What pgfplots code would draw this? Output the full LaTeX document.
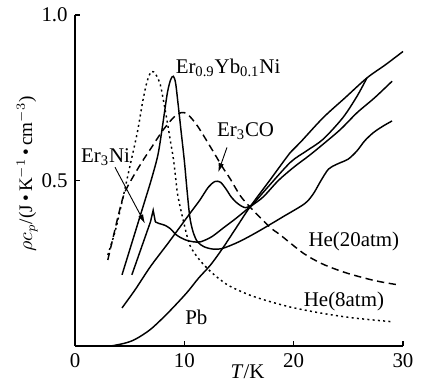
\documentclass[border=0pt]{standalone}
\usepackage{fontspec}
\setmainfont{Liberation Serif}
\usepackage{pgfplots}
\pgfplotsset{compat=1.18}
\usetikzlibrary{arrows.meta}
\begin{document}
\fontsize{11.5}{13}\selectfont
\begin{tikzpicture}
\useasboundingbox (-41.25pt,-20.35pt) rectangle (200.75pt,190.3pt);
\begin{axis}[
  at={(0,0)}, anchor=south west,
  width=180.4pt, height=182pt, scale only axis,
  xmin=0, xmax=30, ymin=0, ymax=1,
  axis lines=left, axis line style={-, line width=1pt},
  xtick={0,10,20,30}, ytick={0.5,1.0}, yticklabels={0.5,1.0},
  tick align=inside, major tick length=3pt, tick style={line width=0.8pt, black},
  /pgf/number format/assume math mode=true,
  no markers,
  xlabel={\textit{T}/K},
  ylabel={$\rho c_p$/(J\,\textbullet\,K$^{-1}$\,\textbullet\,cm$^{-3}$)},
  xlabel style={at={(axis description cs:0.526,-0.078)}, anchor=center},
  ylabel style={at={(axis description cs:-0.146,0.52)}, anchor=center, font=\fontsize{10.5}{12}\selectfont},
  clip=false,
  every axis plot/.append style={line width=0.8pt, black},
]
% He(8atm) dotted
\addplot[smooth, dash pattern=on 1.1pt off 1.8pt] coordinates {
(3.0,0.275)(3.7,0.35)(4.4,0.45)(5.0,0.54)(5.7,0.645)(6.2,0.74)(6.6,0.80)(7.0,0.83)(7.4,0.82)(7.8,0.79)(8.1,0.74)(8.4,0.685)(8.7,0.625)(9.0,0.565)(9.2,0.51)(9.4,0.455)(9.9,0.38)(10.5,0.305)(11.4,0.26)(12.4,0.225)(13.3,0.20)(14.2,0.18)(16.3,0.15)(19.4,0.12)(22.4,0.10)(25.4,0.085)(29.1,0.073)};
% He(20atm) dashed
\addplot[smooth, dash pattern=on 4pt off 2.5pt] coordinates {
(3.0,0.26)(3.5,0.33)(4.0,0.40)(4.5,0.46)(5.2,0.505)(6.2,0.56)(7.0,0.60)(8.0,0.65)(9.0,0.69)(9.7,0.705)(10.3,0.70)(11.2,0.665)(12.6,0.59)(13.5,0.54)(14.2,0.505)(15.1,0.455)(16,0.42)(17.8,0.36)(18.8,0.335)(20.9,0.28)(22.5,0.25)(24,0.23)(25.4,0.215)(27.5,0.197)(29.5,0.185)};
% Er0.9Yb0.1Ni
\addplot[smooth, tension=0.5] coordinates {
(4.3,0.215)(5.0,0.29)(5.7,0.365)(6.4,0.44)(7.0,0.505)(7.6,0.58)(8.05,0.675)(8.45,0.765)(8.75,0.805)(9.0,0.815)(9.2,0.795)(9.4,0.74)(9.7,0.65)(10.0,0.56)(10.25,0.47)(10.5,0.39)(10.8,0.345)(11.2,0.315)(11.8,0.30)(12.6,0.293)(13.5,0.295)(15.0,0.315)(16.7,0.345)(19.0,0.39)(21.0,0.43)(21.8,0.46)(22.5,0.50)(23.2,0.535)(24.0,0.55)(25.0,0.565)(25.8,0.59)(26.5,0.62)(27.3,0.645)(28.2,0.665)(29.0,0.68)};
% Er3Ni
\addplot[] coordinates {(5.2,0.215)(6.9,0.375)(7.15,0.41)(7.35,0.375)};
\addplot[smooth] coordinates {
(7.35,0.375)(7.7,0.37)(8.2,0.365)(8.7,0.355)(9.3,0.335)(10.0,0.322)(10.8,0.315)(11.5,0.315)(12.5,0.33)(13.5,0.355)(14.7,0.385)(16.0,0.42)(17.2,0.45)(18.6,0.50)(20.0,0.54)(21.4,0.575)(22.7,0.61)(24.3,0.655)(25.8,0.705)(27.4,0.75)(29.0,0.80)};
% Er3CO
\addplot[smooth] coordinates {
(4.3,0.115)(5.5,0.17)(6.9,0.24)(8.5,0.31)(9.5,0.355)(10.5,0.40)(11.4,0.44)(12.2,0.48)(12.8,0.497)(13.3,0.495)(13.8,0.475)(14.3,0.45)(14.9,0.43)(15.6,0.418)(16.3,0.43)(17.5,0.475)(19.7,0.555)(21.2,0.59)(22.7,0.625)(24.5,0.69)(25.8,0.755)(26.7,0.81)};
% Pb
\addplot[smooth] coordinates {
(3.3,0)(4.5,0.008)(5.5,0.02)(6.9,0.05)(8.5,0.10)(10.2,0.16)(11.3,0.205)(12.4,0.245)(13.5,0.295)(14.7,0.355)(16,0.42)(17.8,0.50)(19.7,0.585)(20.6,0.615)(22.7,0.69)(24.7,0.75)(26.7,0.81)(28.4,0.85)(30,0.89)};
% labels
\node at (axis cs:14.0,0.84) {Er\textsubscript{0.9}Yb\textsubscript{0.1}Ni};
\node at (axis cs:2.8,0.57) {Er\textsubscript{3}Ni};
\node at (axis cs:15.6,0.65) {Er\textsubscript{3}CO};
\node at (axis cs:25.5,0.315) {He(20atm)};
\node at (axis cs:24.6,0.136) {He(8atm)};
\node at (axis cs:11.1,0.088) {Pb};
\draw[line width=0.5pt, -{Latex[length=5pt,width=3pt]}] (axis cs:3.66,0.54) -- (axis cs:6.4,0.37);
\draw[line width=0.5pt, -{Latex[length=5pt,width=3pt]}] (axis cs:13.9,0.60) -- (axis cs:13.1,0.525);
\end{axis}
\end{tikzpicture}
\end{document}
